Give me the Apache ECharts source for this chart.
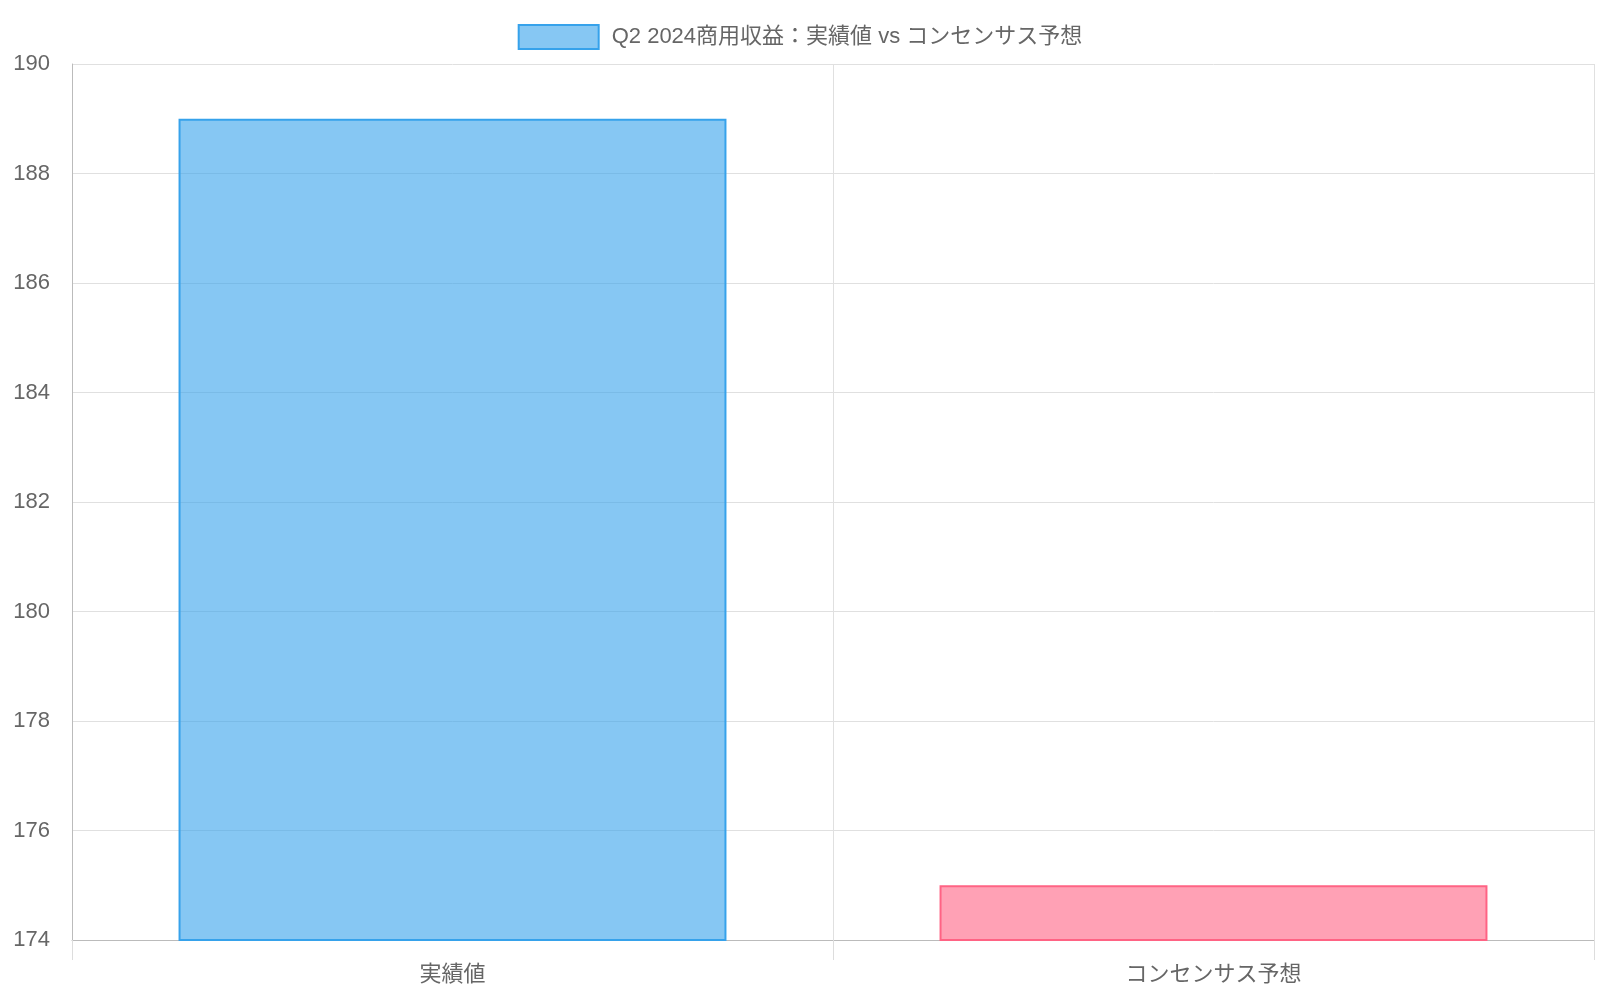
<!DOCTYPE html>
<html><head><meta charset="utf-8">
<script src="https://cdn.jsdelivr.net/npm/echarts@6/dist/echarts.min.js"></script>
<style>html,body{margin:0;padding:0;background:#fff}#c{width:1600px;height:1000px}</style>
</head><body><div id="c"></div>
<script>
const categories = ['実績値', 'コンセンサス予想'];
const values = [189, 175];
const seriesName = 'Q2 2024商用収益：実績値 vs コンセンサス予想';
const fills = ['rgba(54,162,235,0.6)', 'rgba(255,99,132,0.6)'];
const borders = ['rgb(54,162,235)', 'rgb(255,99,132)'];
const font = '"Liberation Sans", Arial, "Noto Sans CJK JP", sans-serif';
const chart = echarts.init(document.getElementById('c'));
chart.setOption({
  animation: false,
  textStyle: {fontFamily: font},
  legend: {top: 19, left: 'center', itemWidth: 80, itemHeight: 24, itemGap: 12,
    textStyle: {fontSize: 22, color: '#666', fontFamily: font, padding: [0, 0, 0, 8]},
    data: [{name: seriesName, icon: 'rect', itemStyle: {color: fills[0], borderColor: borders[0], borderWidth: 2}}]},
  grid: {left: 72, right: 6, top: 64, bottom: 60, containLabel: false},
  xAxis: {type: 'category', data: categories, boundaryGap: true,
    axisLine: {lineStyle: {color: '#bbb'}},
    axisTick: {show: true, length: 20, lineStyle: {color: '#ddd'}},
    splitLine: {show: true, lineStyle: {color: '#e0e0e0'}},
    axisLabel: {fontSize: 22, color: '#666', margin: 24, fontFamily: font}},
  yAxis: {type: 'value', min: 174, max: 190, interval: 2,
    axisLine: {show: true, lineStyle: {color: '#bbb'}},
    axisTick: {show: false},
    splitLine: {lineStyle: {color: '#e0e0e0'}},
    axisLabel: {fontSize: 22, color: '#666', margin: 22, fontFamily: font}},
  series: [{name: seriesName, type: 'bar', barWidth: '72%',
    itemStyle: {color: fills[0], borderColor: borders[0], borderWidth: 2},
    data: values.map((v, i) => ({value: v, itemStyle: {color: fills[i], borderColor: borders[i], borderWidth: 2}}))}]
});
</script></body></html>
